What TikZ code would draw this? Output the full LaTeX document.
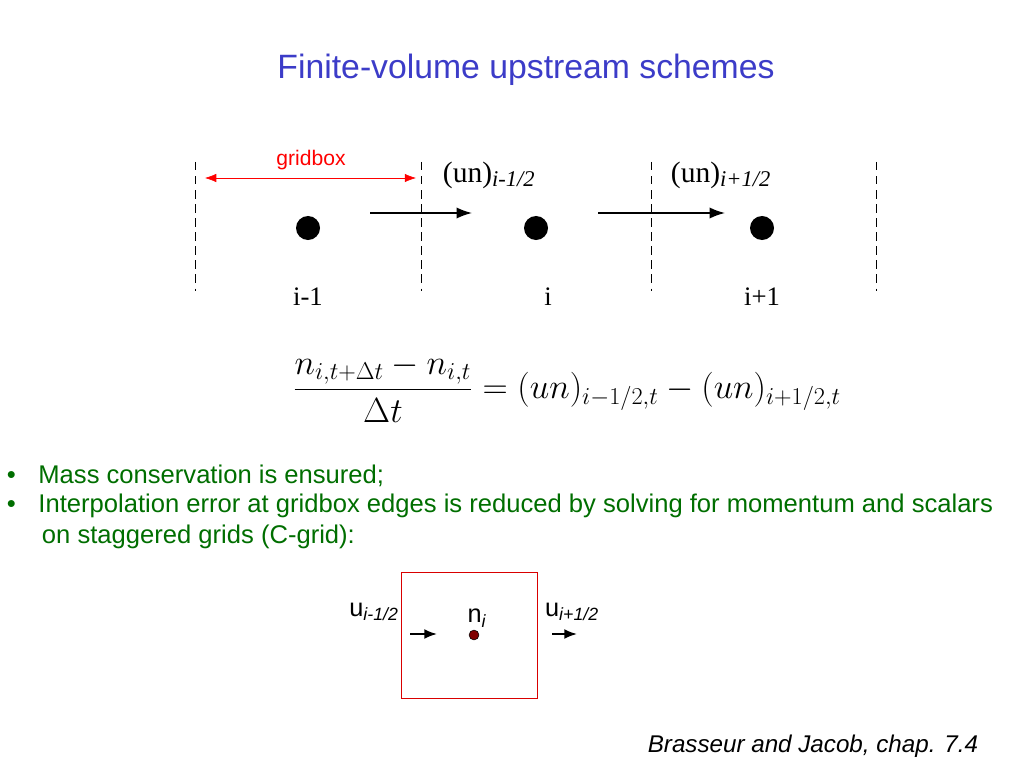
\documentclass[tikz,border=0pt]{standalone}
\usepackage{fontspec}
\setmainfont{Liberation Sans}
\newfontfamily\serifface{Liberation Serif}
\usepackage{amsmath}
\usetikzlibrary{arrows.meta}
\definecolor{titleblue}{RGB}{60,60,200}
\definecolor{textgreen}{RGB}{0,110,0}
\begin{document}
\begin{tikzpicture}[x=0.025cm,y=-0.025cm,
  gridline/.style={line width=0.6pt, dash pattern=on 6pt off 4pt},
  flux/.style={-{Latex[length=11pt,width=8pt]}, line width=1.1pt},
  smallflux/.style={-{Latex[length=9pt,width=7pt]}, line width=1.3pt},
  cell/.style={circle, fill=black, inner sep=0pt, minimum size=0.6cm},
  bullet/.style={anchor=west, text=textgreen, font=\fontsize{18.2}{21}\selectfont}]
\useasboundingbox (0,0) rectangle (1024,768);

\node[text=titleblue, font=\fontsize{24}{28}\selectfont] (title) at (526,70) {Finite-volume upstream schemes};

% grid box edges
\foreach \x/\n in {195/a, 421/b, 651/c, 876/d} {
  \coordinate (top\n) at (\x,162);
  \coordinate (bot\n) at (\x,291);
  \draw[gridline] (top\n) -- (bot\n);
}

% gridbox width
\coordinate (gbl) at (205,178);
\coordinate (gbr) at (416,178);
\draw[red, {Latex[length=8pt,width=6pt]}-{Latex[length=8pt,width=6pt]}] (gbl) -- (gbr);
\node[red, font=\fontsize{15}{17}\selectfont] (gblabel) at (311,160) {gridbox};

% cell centres
\node[cell] (cim) at (308,228) {};
\node[cell] (ci) at (536,228) {};
\node[cell] (cip) at (762,228) {};
\node[font=\serifface\fontsize{19}{21}\selectfont] (lim) at (308,297) {i-1};
\node[font=\serifface\fontsize{19}{21}\selectfont] (li) at (548,297) {i};
\node[font=\serifface\fontsize{19}{21}\selectfont] (lip) at (762,297) {i+1};

% fluxes
\coordinate (fa) at (370,213); \coordinate (fb) at (472,213);
\coordinate (fc) at (598,213); \coordinate (fd) at (725,213);
\draw[flux] (fa) -- (fb);
\draw[flux] (fc) -- (fd);
\node[anchor=west, font=\serifface\fontsize{21}{23}\selectfont] (unm) at (438,175) {(un)\textsubscript{\itshape\fontsize{16}{17}\selectfont i-1/2}};
\node[anchor=west, font=\serifface\fontsize{21}{23}\selectfont] (unp) at (666,175) {(un)\textsubscript{\itshape\fontsize{16}{17}\selectfont i+1/2}};

% scheme
\node[font=\fontsize{23}{28}\selectfont] (eq) at (567,388)
  {$\displaystyle \frac{n_{i,t+\Delta t}-n_{i,t}}{\Delta t} = (un)_{i-1/2,t}-(un)_{i+1/2,t}$};

\node[bullet] (b1) at (2,476) {\textbullet\hspace{16pt}Mass conservation is ensured;};
\node[bullet] (b2) at (2,506) {\textbullet\hspace{16pt}Interpolation error at gridbox edges is reduced by solving for momentum and scalars};
\node[bullet] (b3) at (37,537) {on staggered grids (C-grid):};

% C-grid cell
\draw[red!85!black] (401,572) rectangle (537,698);
\node[circle, draw=black, fill=red!50!black, inner sep=0pt, minimum size=7pt] (ni) at (474,635) {};
\node[font=\fontsize{18}{20}\selectfont] (nil) at (477,618) {n\textsubscript{\itshape i}};
\node[font=\fontsize{18}{20}\selectfont] (uml) at (374,612) {u\textsubscript{\itshape i-1/2}};
\node[font=\fontsize{18}{20}\selectfont] (upl) at (572,612) {u\textsubscript{\itshape i+1/2}};
\coordinate (ua) at (410,634); \coordinate (ub) at (437,634);
\coordinate (uc) at (552,634); \coordinate (ud) at (577,634);
\draw[smallflux] (ua) -- (ub);
\draw[smallflux] (uc) -- (ud);

\node[font=\itshape\fontsize{17.2}{20}\selectfont] (ref) at (813,746) {Brasseur and Jacob, chap. 7.4};
\end{tikzpicture}
\end{document}
